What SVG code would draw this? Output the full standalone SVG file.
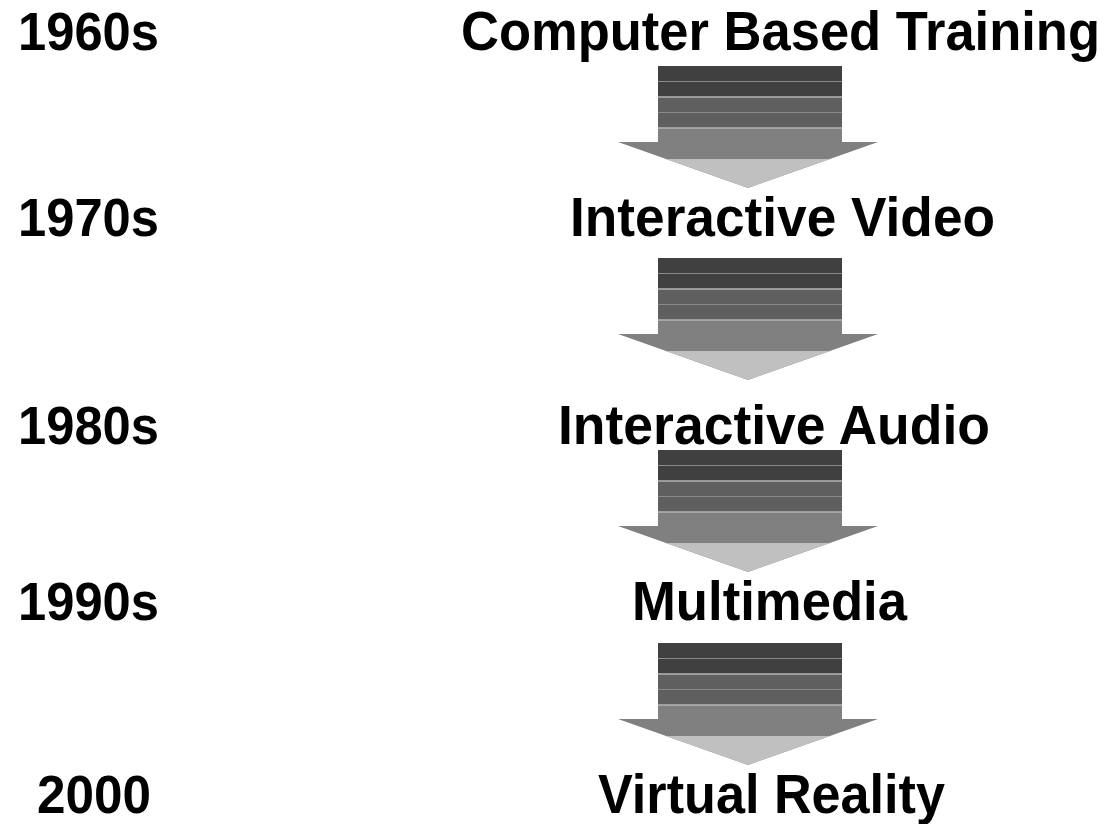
<svg xmlns="http://www.w3.org/2000/svg" width="1118" height="824" viewBox="0 0 1118 824">
  <style>
    .year { font-family: "Liberation Sans", Arial, sans-serif; font-weight: bold; font-size: 54px; fill: #000; }
    .label { font-family: "Liberation Sans", Arial, sans-serif; font-weight: bold; font-size: 55px; fill: #000; }
    .sep-dark { stroke: #8a8a8a; stroke-width: 1; }
    .sep-light { stroke: #b4b4b4; stroke-width: 1.5; }
  </style>
  <defs>
    <!-- striped block arrow, origin at the top of the shaft -->
    <g id="block-arrow">
      <polygon points="658,0 842,0 842,76 878,76 748,122 618,76 658,76" fill="#808080"/>
      <rect x="658" y="0" width="184" height="31" fill="#404040"/>
      <rect x="658" y="31" width="184" height="31" fill="#5f5f5f"/>
      <polygon points="666,93 830,93 748,122" fill="#c0c0c0"/>
      <line class="sep-dark" x1="658" y1="15.5" x2="842" y2="15.5"/>
      <line class="sep-light" x1="658" y1="31" x2="842" y2="31"/>
      <line class="sep-dark" x1="658" y1="46.5" x2="842" y2="46.5"/>
      <line class="sep-light" x1="658" y1="62" x2="842" y2="62"/>
    </g>
  </defs>

  <rect width="1118" height="824" fill="#ffffff"/>

  <g id="connectors">
    <use href="#block-arrow" transform="translate(0,66)"/>
    <use href="#block-arrow" transform="translate(0,258)"/>
    <use href="#block-arrow" transform="translate(0,450)"/>
    <use href="#block-arrow" transform="translate(0,643)"/>
  </g>

  <g id="years">
    <text class="year" x="18" y="50" textLength="141" lengthAdjust="spacingAndGlyphs">1960s</text>
    <text class="year" x="18" y="236" textLength="141" lengthAdjust="spacingAndGlyphs">1970s</text>
    <text class="year" x="18" y="444" textLength="141" lengthAdjust="spacingAndGlyphs">1980s</text>
    <text class="year" x="18" y="620" textLength="141" lengthAdjust="spacingAndGlyphs">1990s</text>
    <text class="year" x="37" y="813" textLength="114" lengthAdjust="spacingAndGlyphs">2000</text>
  </g>

  <g id="node-cbt">
    <!-- narrowed horizontally so the line fits the page width -->
    <text class="label" x="0" y="0" transform="translate(461,50) scale(0.955,1)">Computer Based Training</text>
  </g>
  <g id="node-video">
    <text class="label" x="570" y="236" textLength="425" lengthAdjust="spacingAndGlyphs">Interactive Video</text>
  </g>
  <g id="node-audio">
    <text class="label" x="558" y="444" textLength="432" lengthAdjust="spacingAndGlyphs">Interactive Audio</text>
  </g>
  <g id="node-multimedia">
    <text class="label" x="632" y="620" textLength="275" lengthAdjust="spacingAndGlyphs">Multimedia</text>
  </g>
  <g id="node-vr">
    <text class="label" x="598" y="813" textLength="347" lengthAdjust="spacingAndGlyphs">Virtual Reality</text>
  </g>
</svg>
